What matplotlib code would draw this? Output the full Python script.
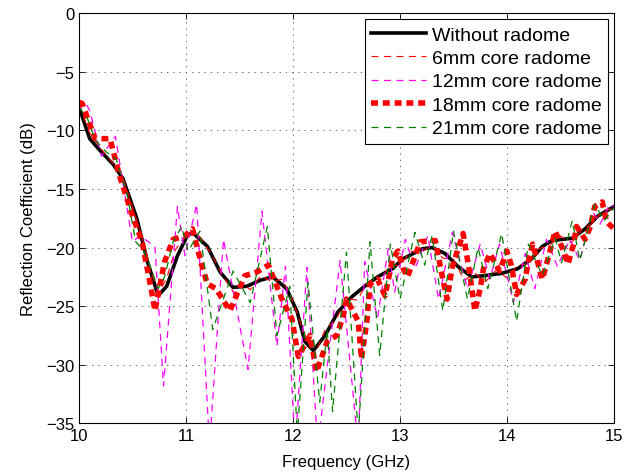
import matplotlib
matplotlib.use("Agg")
import matplotlib.pyplot as plt

plt.rcParams["font.family"] = ["Liberation Sans", "DejaVu Sans"]
plt.rcParams["lines.scale_dashes"] = False

# ── Data (frequency in GHz, S11 in dB) ─────────────────────────────────────
f_none = [10.0, 10.10, 10.20, 10.32, 10.41, 10.54, 10.64, 10.74, 10.82, 10.92,
          11.01, 11.06, 11.20, 11.32, 11.44, 11.57, 11.69, 11.81, 11.94, 12.04,
          12.11, 12.19, 12.30, 12.42, 12.55, 12.67, 12.79, 12.93, 13.03, 13.21,
          13.30, 13.42, 13.54, 13.67, 13.79, 13.95, 14.10, 14.23, 14.33, 14.42,
          14.61, 14.73, 14.85, 15.0]
s_none = [-8.0, -10.7, -11.75, -12.9, -14.1, -17.5, -21.2, -24.1, -23.3, -20.7,
          -19.0, -18.7, -19.9, -22.1, -23.4, -23.3, -22.8, -22.5, -23.5, -25.5,
          -28.0, -28.8, -27.5, -25.5, -24.2, -23.3, -22.5, -21.8, -20.95, -20.1,
          -20.0, -20.5, -21.6, -22.5, -22.4, -22.2, -21.8, -20.96, -19.9, -19.4,
          -19.2, -18.4, -17.3, -16.5]

f_6mm = [10.0, 10.1, 10.2, 10.3, 10.4, 10.5, 10.6, 10.68, 10.75, 10.82,
         10.9, 11.0, 11.08, 11.15, 11.25, 11.35, 11.45, 11.52, 11.6, 11.7,
         11.8, 11.9, 12.0, 12.1, 12.2, 12.3, 12.4, 12.5, 12.6, 12.7,
         12.8, 12.9, 13.0, 13.1, 13.2, 13.3, 13.4, 13.5, 13.6, 13.7,
         13.8, 13.9, 14.0, 14.1, 14.2, 14.3, 14.4, 14.5, 14.6, 14.7,
         14.8, 14.9, 15.0]
s_6mm = [-7.8, -10.2, -11.5, -12.6, -13.8, -16.5, -19.5, -22.3, -23.8, -22.6,
         -20.2, -18.9, -18.5, -19.3, -20.8, -22.5, -23.9, -23.0, -23.6, -22.4,
         -22.9, -22.7, -24.6, -27.2, -29.3, -27.0, -26.2, -24.3, -24.5, -22.9,
         -23.0, -21.6, -21.5, -20.3, -20.4, -19.8, -20.9, -21.0, -22.8, -22.2,
         -22.9, -21.9, -22.6, -21.5, -21.4, -20.1, -19.8, -19.0, -19.6, -18.5,
         -17.9, -16.8, -16.7]

f_12mm = [10.0, 10.06, 10.10, 10.21, 10.34, 10.50, 10.57, 10.71, 10.79, 10.92,
          10.99, 11.10, 11.22, 11.35, 11.58, 11.71, 11.85, 11.93, 12.02, 12.13,
          12.23, 12.44, 12.61, 12.67, 12.79, 12.89, 12.95, 13.05, 13.14, 13.26,
          13.36, 13.49, 13.63, 13.75, 13.84, 13.93, 14.06, 14.17, 14.26, 14.37,
          14.47, 14.59, 14.68, 14.80, 14.87, 14.96, 15.0]
s_12mm = [-8.2, -7.6, -8.3, -12.2, -10.5, -19.5, -19.0, -19.9, -31.8, -16.5,
          -20.7, -16.3, -37.0, -19.3, -30.4, -16.9, -28.4, -21.6, -37.0, -21.7,
          -37.0, -21.1, -37.0, -21.2, -26.0, -20.1, -23.8, -19.3, -21.8, -19.0,
          -24.4, -18.7, -23.5, -19.7, -22.7, -19.7, -24.7, -20.5, -23.5, -19.3,
          -21.6, -19.3, -21.1, -16.9, -18.0, -16.3, -16.5]

f_18mm = [10.0, 10.03, 10.15, 10.29, 10.38, 10.50, 10.59, 10.68, 10.71, 10.80,
          10.88, 10.99, 11.06, 11.15, 11.20, 11.28, 11.41, 11.55, 11.66, 11.77,
          11.91, 11.99, 12.05, 12.16, 12.22, 12.32, 12.41, 12.47, 12.50, 12.61,
          12.64, 12.69, 12.72, 12.79, 12.86, 12.93, 12.98, 13.03, 13.07, 13.19,
          13.33, 13.40, 13.44, 13.49, 13.59, 13.65, 13.70, 13.75, 13.78, 13.84,
          13.93, 14.00, 14.04, 14.09, 14.17, 14.20, 14.24, 14.33, 14.37, 14.45,
          14.52, 14.57, 14.62, 14.65, 14.73, 14.78, 14.82, 14.89, 14.93, 15.0]
s_18mm = [-7.6, -7.7, -10.7, -10.7, -13.9, -17.3, -19.5, -23.8, -25.4, -21.2,
          -19.3, -19.0, -18.4, -21.6, -23.1, -23.5, -25.4, -22.4, -22.1, -21.5,
          -24.7, -26.1, -29.3, -27.5, -30.6, -28.0, -27.5, -25.8, -24.4, -26.3,
          -29.5, -26.3, -23.1, -22.7, -24.1, -21.0, -20.3, -21.8, -22.5, -19.5,
          -19.4, -22.7, -24.4, -21.6, -18.8, -22.1, -25.4, -23.5, -21.8, -20.5,
          -22.0, -20.3, -21.5, -24.0, -22.7, -21.2, -19.7, -22.7, -21.4, -18.6,
          -20.1, -21.4, -19.8, -18.2, -19.3, -18.2, -16.5, -16.1, -17.8, -18.4]

f_21mm = [10.0, 10.08, 10.15, 10.25, 10.35, 10.45, 10.53, 10.60, 10.66, 10.74,
          10.80, 10.88, 10.96, 11.02, 11.13, 11.25, 11.44, 11.60, 11.76, 11.85,
          11.97, 12.04, 12.14, 12.25, 12.32, 12.37, 12.50, 12.61, 12.72, 12.81,
          12.91, 13.00, 13.14, 13.23, 13.30, 13.40, 13.50, 13.63, 13.73, 13.82,
          13.95, 14.09, 14.20, 14.33, 14.45, 14.51, 14.61, 14.68, 14.82, 14.91,
          15.0]
s_21mm = [-8.0, -9.0, -10.8, -11.8, -12.5, -15.5, -19.5, -20.2, -21.5, -23.5,
          -22.5, -19.5, -18.2, -20.3, -18.6, -27.0, -22.0, -24.7, -18.2, -27.5,
          -23.3, -36.0, -23.0, -33.2, -27.0, -34.0, -20.4, -36.0, -19.5, -29.2,
          -19.7, -24.4, -18.7, -21.5, -19.0, -25.4, -18.6, -24.4, -20.0, -23.5,
          -18.8, -26.3, -19.7, -22.4, -19.2, -21.3, -17.7, -21.1, -16.3, -17.7,
          -16.6]

labels = ["Without radome", "6mm core radome", "12mm core radome",
          "18mm core radome", "21mm core radome"]

# ── Plot ───────────────────────────────────────────────────────────────────
fig = plt.figure(figsize=(6.36, 4.77), dpi=100)
ax = fig.add_axes([0.1242, 0.1105, 0.8412, 0.8595])

ax.plot(f_none, s_none, color="black", lw=2.6, label=labels[0])
ax.plot(f_6mm, s_6mm, color="#ff0000", lw=0.8, dashes=(5, 4), label=labels[1])
ax.plot(f_12mm, s_12mm, color="#ff00ff", lw=0.9, dashes=(5, 4), label=labels[2])
ax.plot(f_18mm, s_18mm, color="#ff0000", lw=4.0, dashes=(5, 3.5), label=labels[3])
ax.plot(f_21mm, s_21mm, color="#008000", lw=0.9, dashes=(5, 4), label=labels[4])

ax.set_xlim(10, 15)
ax.set_ylim(-35, 0)
ax.set_xticks([10, 11, 12, 13, 14, 15])
ax.set_yticks([-35, -30, -25, -20, -15, -10, -5, 0])
ax.grid(True, color="0.35", linestyle=(0, (1, 3.5)), linewidth=0.6)
ax.tick_params(direction="in", top=True, right=True, length=4, width=0.6,
               labelsize=12)
for sp in ax.spines.values():
    sp.set_linewidth(0.8)

ax.set_xlabel("Frequency (GHz)", fontsize=12, labelpad=8)
ax.set_ylabel("Reflection Coefficient (dB)", fontsize=12, labelpad=7)

leg = ax.legend(loc="upper right", fontsize=14, handlelength=2.8,
                handletextpad=0.3, labelspacing=0.3, borderpad=0.35,
                borderaxespad=0.3, fancybox=False, framealpha=1)
leg.get_frame().set_edgecolor("black")
leg.get_frame().set_linewidth(0.8)

fig.savefig("out.png", dpi=100)
